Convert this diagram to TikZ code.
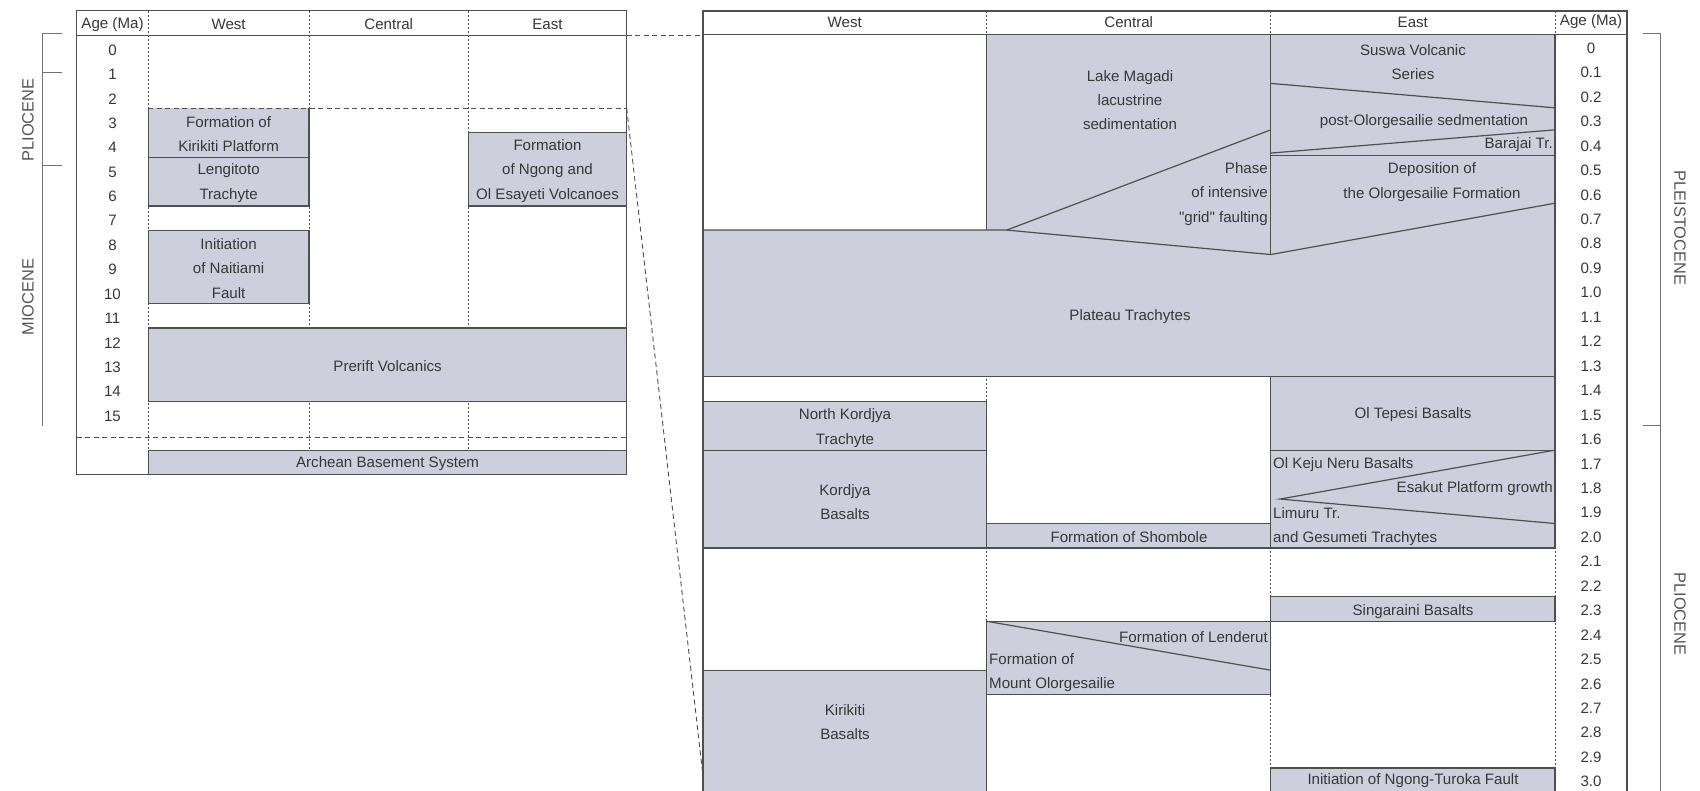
\documentclass[tikz,border=0pt]{standalone}
\usepackage{fontspec}
\setmainfont{Liberation Sans}[Ligatures=TeXOff]
\usetikzlibrary{calc}
\definecolor{boxgray}{RGB}{206,207,220}
\definecolor{rule}{RGB}{78,80,78}
\definecolor{ink}{RGB}{55,55,55}
\tikzset{%
    layer/.style={%
        fill=boxgray
    },
    edge/.style={%
        draw=rule, line width=1.2pt
    },
    divider/.style={%
        draw=rule, line width=0.7pt, dash pattern=on 2.4pt off 1.6pt
    },
    zoomline/.style={%
        draw=rule, line width=0.9pt, dash pattern=on 5pt off 3.5pt
    },
    txt/.style={%
        text=ink, font=\fontsize{15.1}{24.4}\selectfont, inner sep=0pt, align=center
    },
    period/.style={%
        text=ink!85, font=\fontsize{16.4}{18}\selectfont, inner sep=0pt
    },
    bracket/.style={%
        draw=rule!80, line width=0.9pt
    },
}

\begin{document}
\begin{tikzpicture}[x=1pt, y=-1pt]
    \useasboundingbox (0,0) rectangle (1700,791);
    \clip (0,0) rectangle (1700,791);
    \fill[white] (0,0) rectangle (1700,791);

    % left table, 0-15 Ma
    \begin{scope}[shift={(0,35.3)}, y=-24.4pt]
      \foreach \x in {148.3,309,468.4}
        \draw[divider] (\x,-1) -- (\x,17);
      \draw[zoomline] (76.7,16.5) -- (626.7,16.5);

      \fill[layer] (148.3,3) rectangle (309,5);
      \draw[edge] (148.3,3) -- (148.3,5) -- (309,5) -- (309,3);
      \draw[layer, edge] (148.3,5) rectangle (309,7);
      \draw[layer, edge] (148.3,8) rectangle (309,11);
      \draw[layer, edge] (468.4,4) rectangle (626.7,7);
      \draw[layer, edge] (148.3,12) rectangle (626.7,15);
      \draw[layer, edge] (148.3,17) rectangle (626.7,18);
      \draw[edge] (76.7,-1) rectangle (626.7,18);
      \draw[edge] (76.7,0) -- (626.7,0);
      \draw[zoomline] (148.3,3) -- (626.7,3);

      \node[txt] (lhage) at (112.5,-0.45) {Age (Ma)};
      \node[txt] (lhwest) at (228.6,-0.45) {West};
      \node[txt] (lhcentral) at (388.7,-0.45) {Central};
      \node[txt] (lheast) at (547.5,-0.45) {East};
      \foreach \n in {0,...,15}
        \node[txt] (lage\n) at (112.5,\n+0.6) {\n};

      \node[txt] (kirikitip) at (228.6,4.05) {Formation of\\Kirikiti Platform};
      \node[txt] (lengitoto) at (228.6,6.05) {Lengitoto\\Trachyte};
      \node[txt] (naitiami) at (228.6,9.55) {Initiation\\of Naitiami\\Fault};
      \node[txt] (ngong) at (547.5,5.55) {Formation\\of Ngong and\\Ol Esayeti Volcanoes};
      \node[txt] (prerift) at (387.6,13.55) {Prerift Volcanics};
      \node[txt] (archean) at (387.6,17.55) {Archean Basement System};
    \end{scope}

    % right table, 0-3 Ma
    \begin{scope}[shift={(0,34.5)}, y=-24.45pt]
      \foreach \x in {986.7,1270.7,1555}
        \draw[divider] (\x,-0.96) -- (\x,33);

      \fill[layer] (703,8) -- (986.7,8) -- (986.7,0) -- (1555,0) -- (1555,14) -- (703,14) -- cycle;
      \draw[edge] (703,8) -- (1006.7,8) -- (1270.7,3.9);
      \draw[edge] (1006.7,8) -- (1270.7,9) -- (1555,6.9);
      \draw[edge] (986.7,0) -- (986.7,8);
      \draw[edge] (1270.7,0) -- (1270.7,9);
      \draw[edge] (1270.7,2) -- (1555,3);
      \draw[edge] (1270.7,4.85) -- (1555,3.9);
      \draw[edge] (1270.7,4.95) -- (1555,4.95);
      \draw[edge] (703,14) -- (1555,14);
      \draw[edge] (1555,0) -- (1555,14);

      \draw[layer, edge] (703,15) rectangle (986.7,17);
      \draw[layer, edge] (703,17) rectangle (986.7,21);
      \draw[layer, edge] (703,26) rectangle (986.7,33);
      \draw[layer, edge] (986.7,20) rectangle (1270.7,21);
      \draw[layer, edge] (986.7,24) rectangle (1270.7,27);
      \draw[edge] (986.7,24) -- (1270.7,26);
      \draw[layer, edge] (1270.7,14) rectangle (1555,17);
      \draw[layer, edge] (1270.7,17) rectangle (1555,21);
      \draw[edge] (1555,17) -- (1280,19) -- (1555,20);
      \draw[layer, edge] (1270.7,23) rectangle (1555,24);
      \draw[layer, edge] (1270.7,30) rectangle (1555,33);

      \draw[edge] (703,-0.96) rectangle (1627,33);
      \draw[edge] (703,0) -- (1627,0);

      \node[txt] (rhwest) at (844.8,-0.51) {West};
      \node[txt] (rhcentral) at (1128.7,-0.51) {Central};
      \node[txt] (rheast) at (1412.8,-0.51) {East};
      \node[txt] (rhage) at (1591,-0.51) {Age (Ma)};
      \foreach \a [count=\i from 0] in {0,0.1,0.2,0.3,0.4,0.5,0.6,0.7,0.8,0.9,1.0,1.1,1.2,1.3,1.4,1.5,1.6,1.7,1.8,1.9,2.0,2.1,2.2,2.3,2.4,2.5,2.6,2.7,2.8,2.9,3.0}
        \node[txt] (rage\i) at (1591,\i+0.56) {\a};

      \node[txt] (magadi) at (1130,2.68) {Lake Magadi\\lacustrine\\sedimentation};
      \node[txt, align=right, anchor=east] (grid) at (1268,6.52) {Phase\\of intensive\\"grid" faulting};
      \node[txt] (suswa) at (1413,1.12) {Suswa Volcanic\\Series};
      \node[txt] (postolorg) at (1424,3.58) {post-Olorgesailie sedmentation};
      \node[txt, anchor=east] (barajai) at (1553,4.52) {Barajai Tr.};
      \node[txt] (olorgfm) at (1432,6.03) {Deposition of\\the Olorgesailie Formation};
      \node[txt] (plateau) at (1130,11.55) {Plateau Trachytes};
      \node[txt] (nkordjya) at (845,16.09) {North Kordjya\\Trachyte};
      \node[txt] (kordjya) at (845,19.12) {Kordjya\\Basalts};
      \node[txt] (kirikitib) at (845,28.12) {Kirikiti\\Basalts};
      \node[txt] (shombole) at (1129,20.55) {Formation of Shombole};
      \node[txt, anchor=east] (lenderut) at (1268,24.64) {Formation of Lenderut};
      \node[txt, align=left, anchor=west] (mtolorg) at (989,26.09) {Formation of\\Mount Olorgesailie};
      \node[txt] (tepesi) at (1413,15.56) {Ol Tepesi Basalts};
      \node[txt, anchor=west] (kejuneru) at (1273,17.61) {Ol Keju Neru Basalts};
      \node[txt, anchor=east] (esakut) at (1553,18.59) {Esakut Platform growth};
      \node[txt, align=left, anchor=west] (limuru) at (1273,20.12) {Limuru Tr.\\and Gesumeti Trachytes};
      \node[txt] (singaraini) at (1413,23.62) {Singaraini Basalts};
      \node[txt] (turoka) at (1413,30.53) {Initiation of Ngong-Turoka Fault};
    \end{scope}

    % zoom connectors
    \coordinate (zoomA) at (626.7,35);
    \coordinate (zoomB) at (703,35);
    \coordinate (zoomC) at (626.7,108.5);
    \coordinate (zoomD) at (703,776);
    \draw[zoomline] (zoomA) -- (zoomB);
    \draw[zoomline] (zoomC) -- (zoomD);

    % epochs
    \draw[bracket] (61.7,33.3) -- (42.7,33.3) -- (42.7,426);
    \draw[bracket] (42.7,72.7) -- (61.7,72.7);
    \draw[bracket] (42.7,165.7) -- (61.7,165.7);
    \node[period, rotate=90] (plioleft) at (28,120) {PLIOCENE};
    \node[period, rotate=90] (miocene) at (28,297) {MIOCENE};
    \draw[bracket] (1643,33) -- (1660,33) -- (1660,800);
    \draw[bracket] (1643,425) -- (1660,425);
    \node[period, rotate=-90] (pleisto) at (1680,228) {PLEISTOCENE};
    \node[period, rotate=-90] (plioright) at (1680,614) {PLIOCENE};
\end{tikzpicture}
\end{document}
